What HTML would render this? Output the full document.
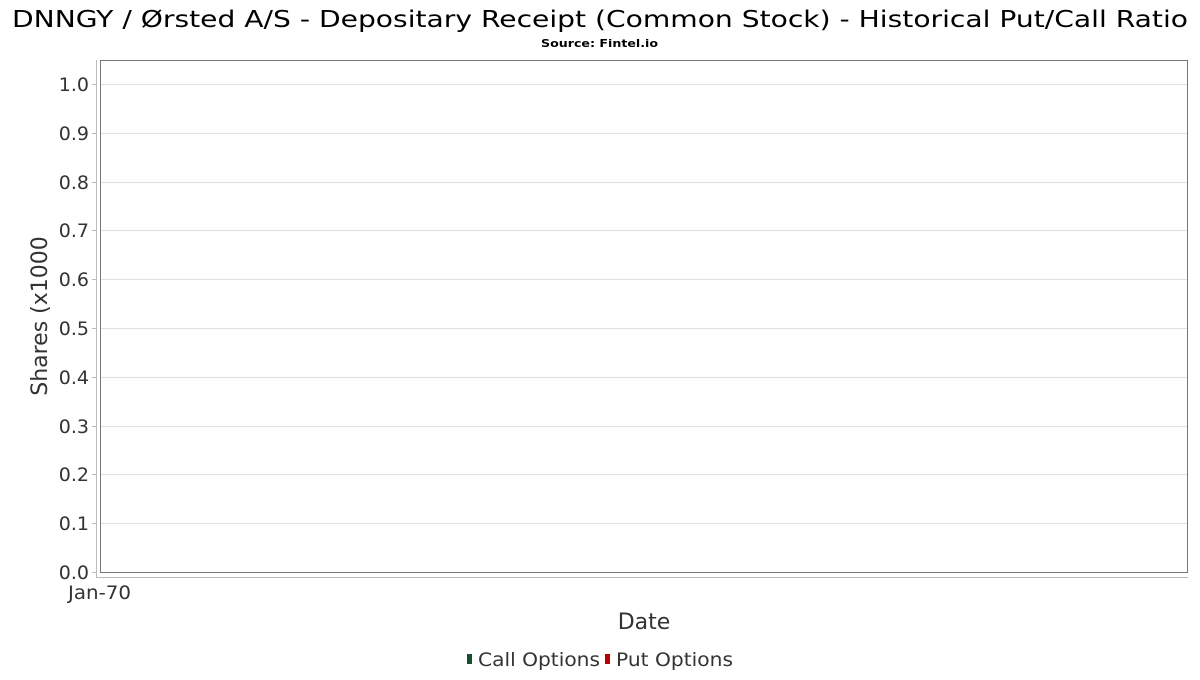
<!DOCTYPE html>
<html><head><style>body{margin:0;background:#fff;width:1200px;height:675px;overflow:hidden}</style></head><body>
<svg width="1200" height="675" xmlns="http://www.w3.org/2000/svg" font-family="DejaVu Sans, sans-serif">
<rect width="1200" height="675" fill="#fff"/>
<text x="12" y="27" font-size="23" fill="#000" textLength="1176" lengthAdjust="spacingAndGlyphs">DNNGY / Ørsted A/S - Depositary Receipt (Common Stock) - Historical Put/Call Ratio</text>
<text x="541" y="47" font-size="11" font-weight="bold" fill="#000" textLength="117" lengthAdjust="spacingAndGlyphs">Source: Fintel.io</text>
<g stroke="#e0e0e0" stroke-width="1">
<line x1="100" x2="1188" y1="84.5" y2="84.5"/><line x1="100" x2="1188" y1="133.5" y2="133.5"/><line x1="100" x2="1188" y1="182.5" y2="182.5"/><line x1="100" x2="1188" y1="230.5" y2="230.5"/><line x1="100" x2="1188" y1="279.5" y2="279.5"/><line x1="100" x2="1188" y1="328.5" y2="328.5"/><line x1="100" x2="1188" y1="377.5" y2="377.5"/><line x1="100" x2="1188" y1="426.5" y2="426.5"/><line x1="100" x2="1188" y1="474.5" y2="474.5"/><line x1="100" x2="1188" y1="523.5" y2="523.5"/>
</g>
<rect x="100.5" y="60.5" width="1087" height="512" fill="none" stroke="#777"/>
<g stroke="#bbb"><line x1="96.5" y1="60" x2="96.5" y2="577"/><line x1="96" y1="577.5" x2="1188" y2="577.5"/>
<line x1="92" x2="96" y1="84.5" y2="84.5"/><line x1="92" x2="96" y1="133.5" y2="133.5"/><line x1="92" x2="96" y1="182.5" y2="182.5"/><line x1="92" x2="96" y1="230.5" y2="230.5"/><line x1="92" x2="96" y1="279.5" y2="279.5"/><line x1="92" x2="96" y1="328.5" y2="328.5"/><line x1="92" x2="96" y1="377.5" y2="377.5"/><line x1="92" x2="96" y1="426.5" y2="426.5"/><line x1="92" x2="96" y1="474.5" y2="474.5"/><line x1="92" x2="96" y1="523.5" y2="523.5"/><line x1="92" x2="96" y1="572.5" y2="572.5"/></g>
<g font-size="19" fill="#333" text-anchor="end">
<text x="89" y="91">1.0</text><text x="89" y="140">0.9</text><text x="89" y="189">0.8</text><text x="89" y="237">0.7</text><text x="89" y="286">0.6</text><text x="89" y="335">0.5</text><text x="89" y="384">0.4</text><text x="89" y="433">0.3</text><text x="89" y="481">0.2</text><text x="89" y="530">0.1</text><text x="89" y="579">0.0</text>
</g>
<text x="68" y="599" font-size="19" fill="#333" textLength="63" lengthAdjust="spacingAndGlyphs">Jan-70</text>
<text x="644" y="629" text-anchor="middle" font-size="22" fill="#333">Date</text>
<text transform="translate(47,316) rotate(-90)" text-anchor="middle" font-size="22" fill="#333">Shares (x1000</text>
<rect x="467" y="654" width="5" height="10" fill="#1a4d2e"/>
<text x="478" y="666" font-size="19" fill="#333" textLength="122" lengthAdjust="spacingAndGlyphs">Call Options</text>
<rect x="605" y="654" width="5" height="10" fill="#c00000"/>
<text x="616" y="666" font-size="19" fill="#333" textLength="117" lengthAdjust="spacingAndGlyphs">Put Options</text>
</svg>
</body></html>
